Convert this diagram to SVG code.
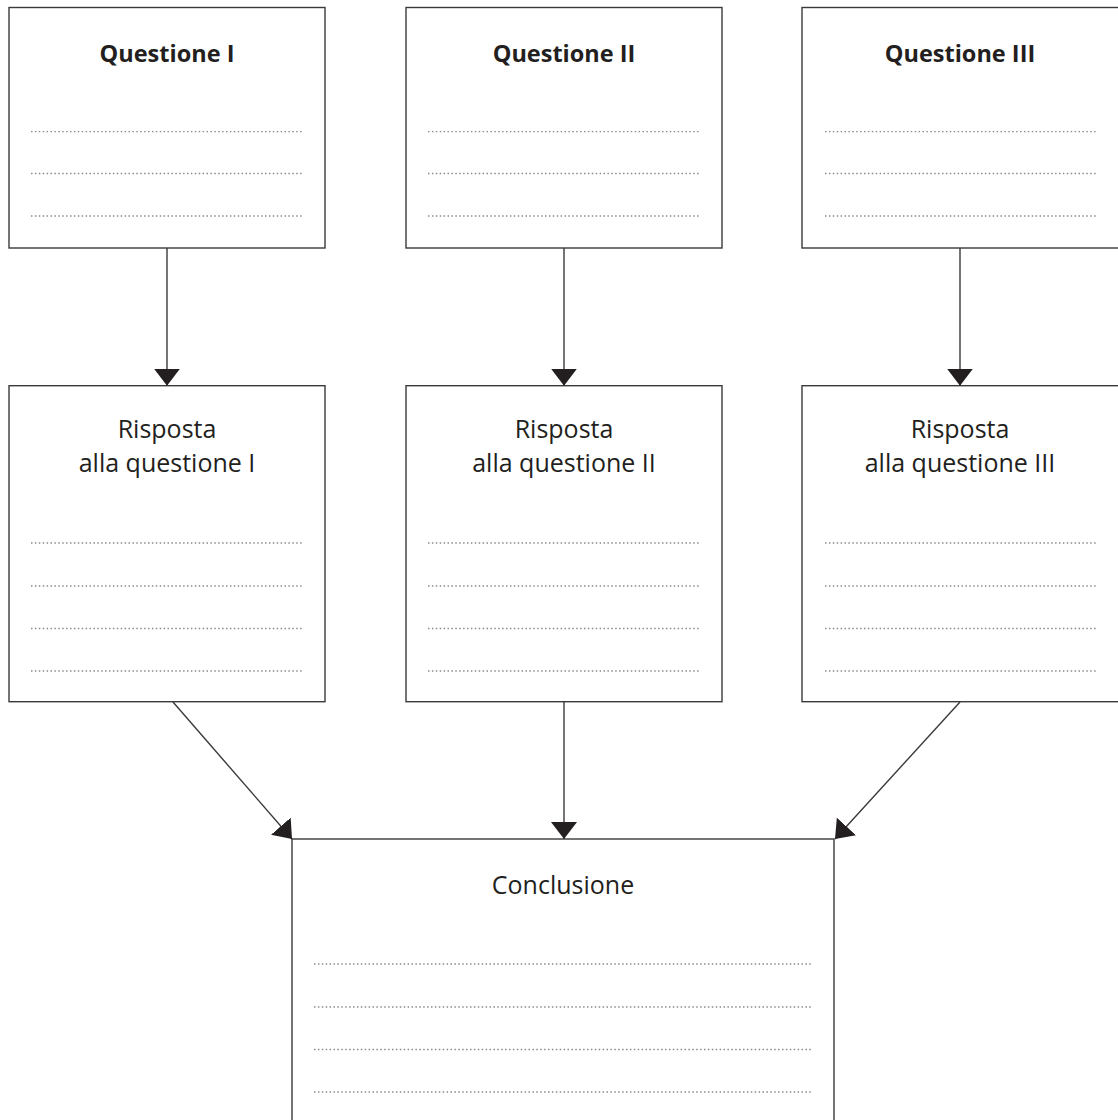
<svg xmlns="http://www.w3.org/2000/svg" width="1118" height="1120" viewBox="0 0 1118 1120">
<style>
.box{fill:#fff;stroke:#3a3a3a;stroke-width:1.4}
.dot{stroke:#8a8a8a;stroke-width:1.3;stroke-dasharray:1.5 2.4;fill:none}
.title{font-family:"Open Sans","DejaVu Sans",sans-serif;font-weight:bold;font-size:23.5px;fill:#231f20;text-anchor:middle}
.lbl{font-family:"Open Sans","DejaVu Sans",sans-serif;font-size:25px;fill:#231f20;text-anchor:middle}
.conn{stroke:#3a3a3a;stroke-width:1.4;fill:none;marker-end:url(#ah)}
</style>
<defs>
<marker id="ah" viewBox="0 0 17 26" refX="17" refY="13" markerWidth="17" markerHeight="26" markerUnits="userSpaceOnUse" orient="auto">
<path d="M0,0 L17,13 L0,26 Z" fill="#231f20"/>
</marker>
</defs>
<rect width="1118" height="1120" fill="#fff"/>

<g id="q1">
<rect class="box" x="9" y="7.5" width="316" height="240.5"/>
<text class="title" x="167" y="62">Questione I</text>
<line class="dot" x1="31" y1="131.7" x2="302" y2="131.7"/>
<line class="dot" x1="31" y1="173.5" x2="302" y2="173.5"/>
<line class="dot" x1="31" y1="216" x2="302" y2="216"/>
</g>
<g id="q2">
<rect class="box" x="406" y="7.5" width="316" height="240.5"/>
<text class="title" x="564" y="62">Questione II</text>
<line class="dot" x1="428" y1="131.7" x2="699" y2="131.7"/>
<line class="dot" x1="428" y1="173.5" x2="699" y2="173.5"/>
<line class="dot" x1="428" y1="216" x2="699" y2="216"/>
</g>
<g id="q3">
<rect class="box" x="802" y="7.5" width="330" height="240.5"/>
<text class="title" x="960" y="62">Questione III</text>
<line class="dot" x1="825" y1="131.7" x2="1096" y2="131.7"/>
<line class="dot" x1="825" y1="173.5" x2="1096" y2="173.5"/>
<line class="dot" x1="825" y1="216" x2="1096" y2="216"/>
</g>

<g id="r1">
<rect class="box" x="9" y="385.7" width="316" height="316"/>
<text class="lbl" x="167" y="438">Risposta</text>
<text class="lbl" x="167" y="472">alla questione I</text>
<line class="dot" x1="31" y1="543" x2="302" y2="543"/>
<line class="dot" x1="31" y1="586" x2="302" y2="586"/>
<line class="dot" x1="31" y1="628.5" x2="302" y2="628.5"/>
<line class="dot" x1="31" y1="671" x2="302" y2="671"/>
</g>
<g id="r2">
<rect class="box" x="406" y="385.7" width="316" height="316"/>
<text class="lbl" x="564" y="438">Risposta</text>
<text class="lbl" x="564" y="472">alla questione II</text>
<line class="dot" x1="428" y1="543" x2="699" y2="543"/>
<line class="dot" x1="428" y1="586" x2="699" y2="586"/>
<line class="dot" x1="428" y1="628.5" x2="699" y2="628.5"/>
<line class="dot" x1="428" y1="671" x2="699" y2="671"/>
</g>
<g id="r3">
<rect class="box" x="802" y="385.7" width="330" height="316"/>
<text class="lbl" x="960" y="438">Risposta</text>
<text class="lbl" x="960" y="472">alla questione III</text>
<line class="dot" x1="825" y1="543" x2="1096" y2="543"/>
<line class="dot" x1="825" y1="586" x2="1096" y2="586"/>
<line class="dot" x1="825" y1="628.5" x2="1096" y2="628.5"/>
<line class="dot" x1="825" y1="671" x2="1096" y2="671"/>
</g>

<g id="conclusione">
<rect class="box" x="292" y="839" width="542" height="300"/>
<text class="lbl" x="563" y="894">Conclusione</text>
<line class="dot" x1="314" y1="964" x2="812" y2="964"/>
<line class="dot" x1="314" y1="1007" x2="812" y2="1007"/>
<line class="dot" x1="314" y1="1049.5" x2="812" y2="1049.5"/>
<line class="dot" x1="314" y1="1092" x2="812" y2="1092"/>
</g>

<g id="connectors">
<line class="conn" x1="167" y1="248" x2="167" y2="385.7"/>
<line class="conn" x1="564" y1="248" x2="564" y2="385.7"/>
<line class="conn" x1="960" y1="248" x2="960" y2="385.7"/>
<line class="conn" x1="173" y1="702" x2="292" y2="839"/>
<line class="conn" x1="564" y1="702" x2="564" y2="839"/>
<line class="conn" x1="960" y1="702" x2="835" y2="839"/>
</g>
</svg>
